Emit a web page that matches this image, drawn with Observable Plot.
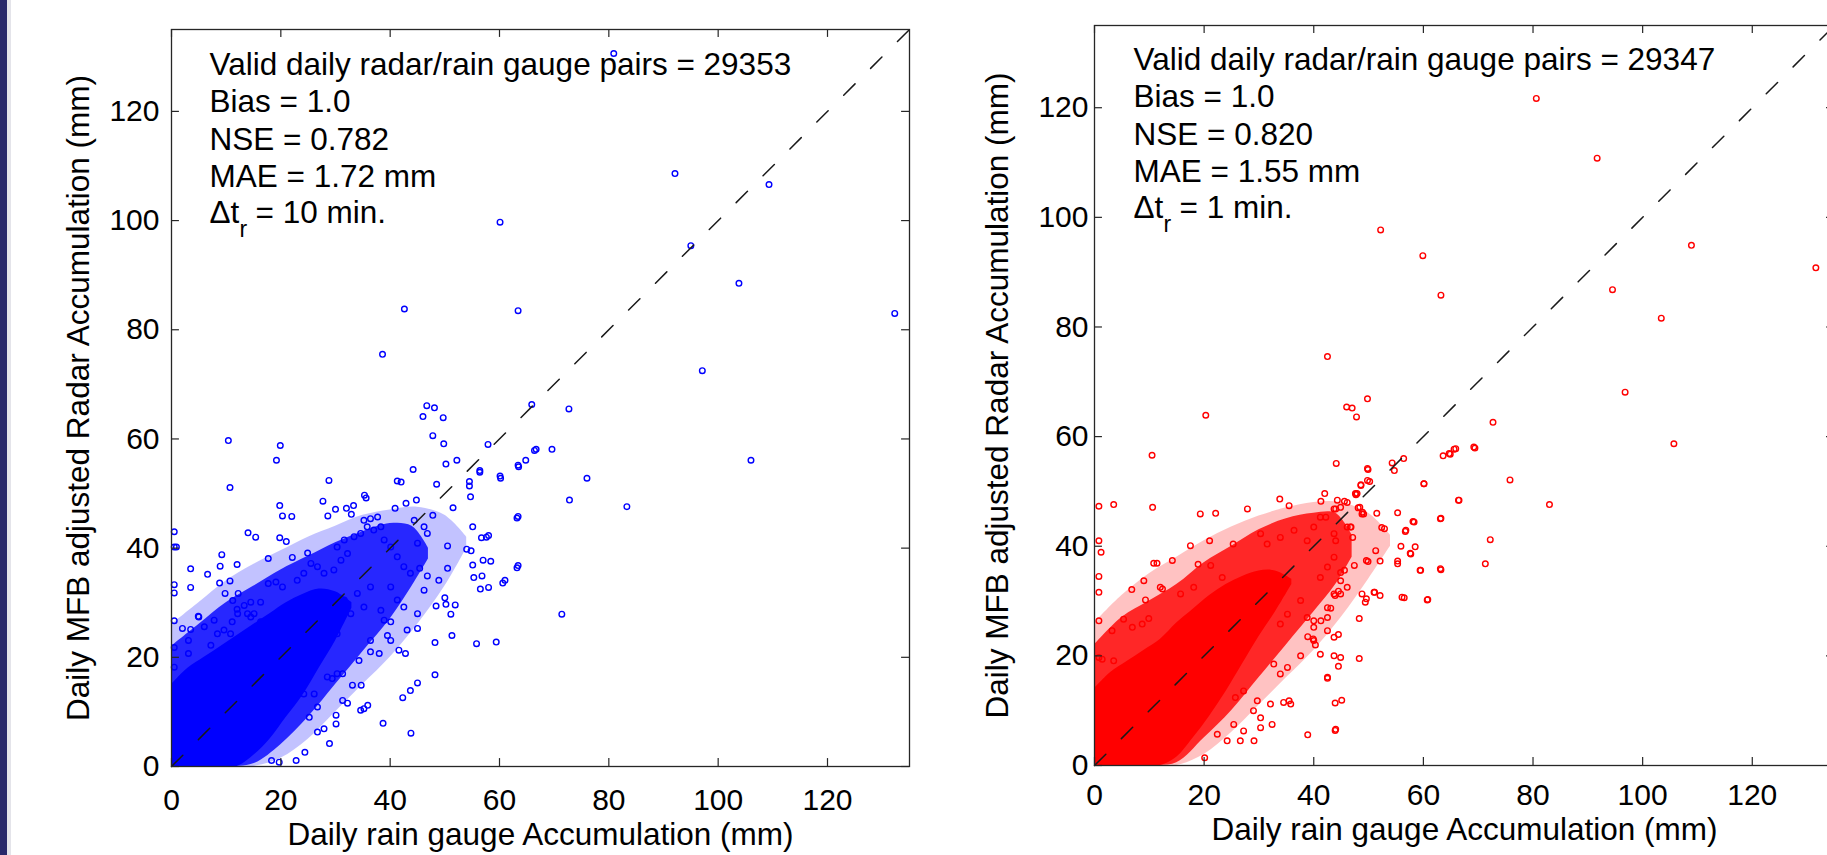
<!DOCTYPE html>
<html>
<head>
<meta charset="utf-8">
<script src="https://cdn.jsdelivr.net/npm/d3@7"></script>
<script src="https://cdn.jsdelivr.net/npm/@observablehq/plot@0.6"></script>
<style>
  html, body { margin: 0; padding: 0; background: #fff; }
  #wrap { position: relative; width: 1827px; height: 855px; overflow: hidden; background: #fff; }
  #bar { position: absolute; left: 0; top: 0; width: 7px; height: 855px; background: #28286a; }
  #bar2 { position: absolute; left: 7px; top: 0; width: 4px; height: 855px; background: #e4e4ea; }
  #left, #right { position: absolute; top: 0; height: 855px; }
  #left { left: 0; width: 920px; }
  #right { left: 920px; width: 930px; }
  #wrap svg { max-width: none !important; display: block; }
</style>
</head>
<body>
<div id="wrap">
  <div id="left"></div>
  <div id="right"></div>
  <div id="bar"></div>
  <div id="bar2"></div>
</div>
<script>
// ---------- data ----------
const TICKS = [0, 20, 40, 60, 80, 100, 120];
const DOMAIN = [0, 135];
const DIAG = [0, 135];
const X_LABEL = "Daily rain gauge Accumulation (mm)";
const Y_LABEL = "Daily MFB adjusted Radar Accumulation (mm)";

const leftStats = ["Valid daily radar/rain gauge pairs = 29353", "Bias = 1.0", "NSE = 0.782", "MAE = 1.72 mm"];
const leftDt = "= 10 min.";
const rightStats = ["Valid daily radar/rain gauge pairs = 29347", "Bias = 1.0", "NSE = 0.820", "MAE = 1.55 mm"];
const rightDt = "= 1 min.";

// dense cloud of the 10-min panel, read as bands: solid core, ring-covered halo, sparse fringe
const leftCoreX  = [0, 3, 6, 9, 12, 15, 18, 21, 24, 27, 30, 33];
const leftCoreLo = [0, 0, 0, 0, 0, 2, 5, 9, 13, 18, 23, 29];
const leftCoreHi = [15, 18, 20, 22, 24, 26, 28, 30, 31.5, 32.5, 32, 30];
const leftHaloX  = [0, 5, 10, 15, 20, 25, 30, 35, 40, 44, 47];
const leftHaloLo = [0, 0, 0, 0.5, 4, 9, 15, 21, 27, 33, 38];
const leftHaloHi = [22, 26, 30, 33, 36, 38.5, 41, 43, 44.5, 44, 40];
const leftFringeX  = [0, 5, 10, 15, 20, 25, 30, 35, 40, 45, 50, 54];
const leftFringeLo = [0, 0, 0, 0, 1.5, 5, 10, 15, 20, 26, 33, 40];
const leftFringeHi = [26, 30, 34, 37, 39.5, 42, 44, 46, 47, 47.5, 46, 42];

// dense cloud of the 1-min panel
const rightCoreX  = [0, 3, 6, 9, 12, 15, 18, 21, 24, 27, 30, 33, 36];
const rightCoreLo = [0, 0, 0, 0, 0, 1.5, 5, 9, 13.5, 18.5, 23.5, 28, 33];
const rightCoreHi = [14, 17, 19, 21, 23, 26, 28.5, 31, 33, 34.5, 35.5, 35.5, 34];
const rightHaloX  = [0, 5, 10, 15, 20, 25, 30, 35, 40, 44, 47];
const rightHaloLo = [0, 0, 0, 0.5, 5, 10, 16, 22, 28, 33, 38];
const rightHaloHi = [22, 27, 30, 33, 37, 40, 43, 45, 46, 46, 42];
const rightFringeX  = [0, 5, 10, 15, 20, 25, 30, 35, 40, 45, 50, 54];
const rightFringeLo = [0, 0, 0, 0, 2, 6, 11, 16, 21, 27, 34, 40];
const rightFringeHi = [26, 31, 35, 38, 41, 43.5, 45.5, 47, 48, 48, 46, 42];

// individual daily pairs visible outside the dense cloud (gauge mm, radar mm)
const leftPoints = [
  [80.9,130.6],[92.1,108.6],[109.3,106.6],[60.1,99.7],[95.0,95.4],[103.8,88.5],[42.6,83.8],[63.4,83.5],[132.3,83.0],
  [38.6,75.5],[97.1,72.5],[65.9,66.3],[72.7,65.5],[106,56.1],[69.6,58.1],[72.8,48.8],[76,52.8],[83.3,47.6],[71.4,27.9],
  [63.4,45.8],[63.4,36.8],[61,34.1],
  [10.4,59.7],[19.9,58.8],[19.2,56.1],[10.7,51.1],[28.8,52.4],[46.7,66.1],[48.1,65.7],[46.0,64.1],[49.7,63.9],[47.8,60.6],
  [49.8,59.1],[57.9,59.0],[66.4,57.9],[64.8,56.1],[63.5,54.9],[52.2,56.1],[50.2,55.4],[44.2,54.4],[56.4,53.9],[41.3,52.3],
  [42.0,52.1],[60.2,52.8],[48.5,51.7],[54.5,51.4],[54.7,49.4],[51.5,47.4],[40.9,47.3],[42.9,48.2],[44.8,48.8],[47.8,46.0],
  [35.3,49.7],[35.6,49.2],[33.3,47.8],[32,47.3],[27.7,48.6],[30,47.1],[19.8,47.8],[20.3,45.9],[22,45.8],[28.6,45.9],
  [32.9,46.2],[63.2,45.5],[55.1,43.9],[56.7,41.9],[57.6,42.0],[58.4,37.6],[63.2,36.4],[60.6,33.6],[55.1,36.9],[55.3,34.6],
  [56.5,32.5],[51.3,24.0],[55.8,22.5],[59.4,22.8],[48.2,22.7],[48.2,16.8],[45,15.3],[43.7,13.9],[42.3,12.6],[43.8,6.1],
  [38.7,7.9],[14,42.8],[15.4,42],[9.2,38.8],[8.9,36.7],[12,37],[3.5,36.2],[6.6,35.2],[17.7,38.1],[19.8,41.9],[21,41.2],
  [22.1,38.3],[24.9,39.1],[0.5,43.0],[0.5,40.2],[0.9,40.2],[0.5,33.3],[0.5,31.8],[0.5,26.7],[0.5,21.8],[0.5,18.2],
  [3.5,32.8],[8.8,33.6],[10.7,34],[9.8,31.7],[11.2,30.4],[12,28.8],[12.2,31.7],[4.9,27.5],[7.8,26.8],[11.1,26.5],
  [60.1,53.2],[63.4,55.2],[66.7,58.1],[56.4,54.2],[54.5,52.2],[54,39.8],[54.8,39.5],[58,42.3],[57,37.8],[56.8,34.9],
  [58,32.8],[50.5,40.4],[50.5,36.3],[48.9,34.1],[50,30.9],[50.2,29.7],[51.9,29.6],[51.1,27.9],[48.4,29.4],[46.2,32.3],
  [46.8,34.9],[45.4,36.3],
  [33.1,14.9],[34.7,14.9],[34.6,10.3],[35.2,10.6],[35.9,11.2],[28.9,4.2],[30.1,9.4],[30.1,7.8],[27.9,6.9],[26.7,6.3],
  [31.3,12.1],[32.2,11.6],[24.4,2.6],[22.8,1.1],[19.7,0.8],[18.3,1.1],[25.2,9],[26.7,10.9],[26.1,13.3],[24.2,13.3],
  [30.3,17],[31.3,17],[28.5,16.4],[29.4,16.1],[34.3,19.4],[36.4,21],[38,20.7],[36.4,23.1],[39.5,24],[40.1,23.1],
  [41.6,21.3],[42.8,20.7],[43.1,25],[45,25.3],[40.1,26.5],
  [2,25.3],[3.5,25.1],[5,27.4],[6,25.6],[3.1,23.1],[3.1,20.7],[7.2,22.2],[8.4,24.3],[9.6,25],[10.8,24.3],[12.1,28],
  [13.9,28],[15.1,28],[16.3,30.1],[17.7,33.5],[19.1,33.8],[20.3,32.9],[14.5,27.4],[16.3,26.5],[13.3,29.5],[14.5,30.1],
  [23,34.1],[25.5,37.2],[26.7,36.6],[24.2,35.4],[27.9,35.4],[29.7,36],[31,37.8],[32.2,39],[30.3,40.2],[31.6,41.5],
  [33.4,42.1],[34.6,42.7],[35.8,43.9],[37,43.3],[38.3,43.9],[38.9,41.5],[35.2,45.1],[36.4,45.4],[37.7,45.7],[40.1,40.2],
  [41.3,38.4],[42.5,36.6],[43.7,35.4],[45,40.9],[46.8,42.7],[46.2,43.9],[44.4,45.1],[38.3,28.6],[38.9,26.8],[40.1,32.9],
  [41.3,30.5],[42.5,29.2],[45,28],[31.6,30.5],[34,31.7],[35.2,29.2],[36.4,32.9],[32.8,28],[30.3,24.3]
];

const rightPoints = [
  [80.6,121.7],[91.7,110.8],[52.2,97.7],[59.9,93],[108.9,94.9],[131.6,90.8],[63.2,85.8],[94.5,86.8],[103.4,81.6],
  [42.5,74.6],[96.8,68.1],[20.3,63.9],[46,65.4],[47,65.2],[47.8,63.6],[49.8,66.9],[72.7,62.6],[105.7,58.7],[10.5,56.6],
  [69.4,57.9],[65.6,57.7],[64.9,56.8],[63.6,56.5],[56.4,56],[54.3,55.2],[54.7,53.8],[44.1,55.1],[49.9,54],[50.2,51.8],
  [48.6,51.2],[60.1,51.4],[75.8,52.1],[42,49.6],[47.6,49.6],
  [83,47.6],[66.4,48.4],[72.2,41.2],[71.3,36.8],[63.2,45.1],[63.2,35.7],[59.4,35.6],[60.8,30.3],[56.5,30.6],[55.3,46.1],
  [58.1,44.5],[56.7,42.7],[55.9,40],[58.5,39.9],[57.6,38.7],[55.3,37.3],[55.3,36.8],[51.5,46],[52.9,43.2],[52.4,43.4],
  [51.3,39.2],[52.1,37.3],[49.9,37.2],[49.6,37.4],[51.1,31.6],[52.1,31],[49.6,30.4],[49.4,29.8],[48.3,26.8],[48.3,19.5],
  [44.5,23.9],[44.5,18.1],[42.5,15.9],[43.9,11.4],[45.1,11.9],[43.9,6.4],[38.9,5.6],[47.7,49.4],[48.6,51.1],[41.3,48.2],
  [45.6,48.2],[46.1,48],[49.1,45.9],[48.4,47.1],[44.9,31.3],[43.9,31],[44.5,31.8],[40.3,22],[39.9,23.1],[38.9,23.5],
  [43.1,28.7],[42.5,27],[41.3,26.4],[40,26.4],[46.8,43.5],[47.1,41.6],[47.4,36.5],[45.6,35.6],[44.9,35.2],[44,46.8],
  [44.9,47.1],[48.1,47],[48.9,46.2],
  [0.8,47.3],[3.5,47.6],[10.6,47.1],[0.8,41],[1.2,38.9],[19.3,45.9],[22.1,46],[27.9,46.8],[33.8,48.6],[35.5,47.4],
  [17.5,40.1],[21,41],[25.3,40.4],[10.8,36.9],[11.4,36.9],[14.2,37.4],[18.9,36.7],[9,33.7],[12.4,32.2],[6.8,32.1],
  [9.3,30.2],[0.8,34.5],[0.8,31.6],[0.8,26.4],[5.3,26.7],[6.9,25.2],[3.2,24.6],[8.7,25.8],[9.9,26.8],[12,32.5],
  [15.7,31.3],[18.1,32.5],[21.2,36.5],[23.3,34.3],[0.8,19.7],[1.4,19.4],[3.5,19.1],[44,6.6],[42.5,16.1],[32.4,7.5],
  [29.1,4.5],[26.6,4.5],[24.2,4.5],[22.4,5.7],[20.1,1.4],[32.1,11.2],[34.5,11.5],[35.5,11.8],[35.8,11.2],[30.3,8.7],
  [30.3,6.9],[27.2,6.3],[25.4,7.5],[29,10],[29.7,11.8],[27.2,13.6],[25.7,12.4],[37.6,20],[40,22.8],[41.2,20.3],
  [43.7,20],[44.9,19.7],[33.9,16.7],[35.2,17.9],[32.7,18.5],[43.7,23.4],[42.5,24.6],[40,25.2],[48.8,31.3],[51,31.6],
  [56.1,30.7],[59.5,35.6],[60.7,30.2],[63.1,35.9],[63.1,45],[60.1,51.4],[64.7,56.9],[65.9,57.8],[69.2,58.1],[66.5,48.4],
  [58.3,44.4],[56.8,42.9],[57.7,38.6],[49.8,54.2],[49.8,52],[47.9,49.6],[44.3,48.4],[43.7,46.8],[42.2,45.3],[44,41],
  [46.7,43.5],[48.8,45.9],
  [30.3,42.3],[31.5,40.4],[33.9,41.6],[36.4,42.9],[38.8,41],[40,43.5],[41.2,45.3],[43.7,42.3],[46.1,43.5],[43.7,38],
  [42.5,36.2],[41.2,34.3],[44.9,33.7],[46.1,32.5],[43.7,31.3],[42.5,28.8],[37.6,30.1],[35.2,27.6],[33.9,25.8],[38.8,27]
];

// ---------- drawing ----------
const FONT = "'Liberation Sans', Arial, Helvetica, sans-serif";
const TL = 1.45; // inward tick length in data units

function band(xs, lo, hi) { return xs.map((x, i) => ({x, lo: lo[i], hi: hi[i]})); }

function panel(o) {
  const dmax = DOMAIN[1];
  return Plot.plot({
    width: o.width, height: 855,
    marginLeft: o.mL, marginRight: o.mR, marginTop: o.mT, marginBottom: o.mB,
    x: {domain: DOMAIN},
    y: {domain: DOMAIN},
    style: {fontFamily: FONT, fontSize: "30px", color: "#000", background: "transparent", overflow: "visible"},
    marks: [
      Plot.areaY(o.fringe, {x: "x", y1: "lo", y2: "hi", fill: o.color, fillOpacity: 0.24, curve: "catmull-rom", clip: true}),
      Plot.areaY(o.halo, {x: "x", y1: "lo", y2: "hi", fill: o.color, fillOpacity: 0.8, curve: "catmull-rom", clip: true}),
      Plot.areaY(o.core, {x: "x", y1: "lo", y2: "hi", fill: o.color, curve: "catmull-rom", clip: true}),
      Plot.dot(o.points, {x: d => d[0], y: d => d[1], r: 2.8, stroke: o.color, strokeWidth: 1.4, fill: "none"}),
      Plot.line(DIAG, {x: d => d, y: d => d, stroke: "#1a1a1a", strokeWidth: 1.5, strokeDasharray: "16,22"}),
      Plot.frame({stroke: "#262626", strokeWidth: 1.3}),
      Plot.ruleX(TICKS, {x: d => d, y1: 0, y2: TL, stroke: "#262626", strokeWidth: 1.2}),
      Plot.ruleX(TICKS, {x: d => d, y1: dmax - TL, y2: dmax, stroke: "#262626", strokeWidth: 1.2}),
      Plot.ruleY(TICKS, {y: d => d, x1: 0, x2: TL, stroke: "#262626", strokeWidth: 1.2}),
      Plot.ruleY(TICKS, {y: d => d, x1: dmax - TL, x2: dmax, stroke: "#262626", strokeWidth: 1.2}),
      Plot.axisX({ticks: TICKS, tickSize: 0, tickPadding: o.padX, label: null, fontSize: 30}),
      Plot.axisY({ticks: TICKS, tickSize: 0, tickPadding: o.padY, label: null, fontSize: 30}),
      Plot.text([X_LABEL], {frameAnchor: "bottom", text: d => d, dy: o.xLabDy, lineAnchor: "bottom", textAnchor: "middle", fontSize: 31.5}),
      Plot.text([Y_LABEL], {frameAnchor: "left", text: d => d, rotate: -90, dx: o.yLabDx, lineAnchor: "bottom", textAnchor: "middle", fontSize: 31.5}),
      Plot.text([o.stats.join("\n")], {frameAnchor: "top-left", text: d => d, dx: o.tx, dy: o.ty, lineAnchor: "bottom", textAnchor: "start", lineHeight: 1.175, fontSize: 31.5}),
      Plot.text(["\u0394t"], {frameAnchor: "top-left", text: d => d, dx: o.tx, dy: o.ty + 36, lineAnchor: "bottom", textAnchor: "start", fontSize: 31.5}),
      Plot.text(["r"], {frameAnchor: "top-left", text: d => d, dx: o.tx + 30, dy: o.ty + 50, lineAnchor: "bottom", textAnchor: "start", fontSize: 23}),
      Plot.text([o.dt], {frameAnchor: "top-left", text: d => d, dx: o.tx + 46, dy: o.ty + 36, lineAnchor: "bottom", textAnchor: "start", fontSize: 31.5})
    ]
  });
}

document.getElementById("left").appendChild(panel({
  width: 920, mL: 171, mR: 11, mT: 29, mB: 89,
  color: "#0000ff",
  core: band(leftCoreX, leftCoreLo, leftCoreHi),
  halo: band(leftHaloX, leftHaloLo, leftHaloHi),
  fringe: band(leftFringeX, leftFringeLo, leftFringeHi),
  points: leftPoints,
  stats: leftStats, dt: leftDt,
  padX: 22, padY: 12, xLabDy: 78, yLabDx: -83, tx: 38, ty: 157
}));

document.getElementById("right").appendChild(panel({
  width: 930, mL: 174, mR: 16, mT: 25, mB: 90,
  color: "#ff0000",
  core: band(rightCoreX, rightCoreLo, rightCoreHi),
  halo: band(rightHaloX, rightHaloLo, rightHaloHi),
  fringe: band(rightFringeX, rightFringeLo, rightFringeHi),
  points: rightPoints,
  stats: rightStats, dt: rightDt,
  padX: 18, padY: 6, xLabDy: 74, yLabDx: -87, tx: 39, ty: 156
}));
</script>
</body>
</html>
